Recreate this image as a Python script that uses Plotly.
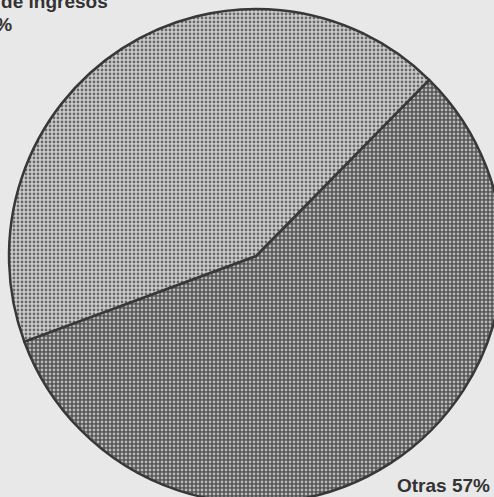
import plotly.graph_objects as go

labels = ["Otras", "Fuentes de ingresos"]
values = [57, 43]
pct_labels = ["Otras 57%", "43%"]
title_line = "Fuentes de ingresos"

bg = "#e8e8e8"

fig = go.Figure()
fig.add_trace(go.Pie(
    labels=labels,
    values=values,
    sort=False,
    direction="clockwise",
    rotation=44.5,
    textinfo="none",
    hoverinfo="label+percent",
    showlegend=False,
    domain=dict(x=[0, 1], y=[0, 1]),
    marker=dict(
        colors=["#6e6e6e", "#ababab"],
        line=dict(color="#383838", width=2.5),
        pattern=dict(
            shape=[".", "."],
            bgcolor=["#555555", "#cecece"],
            fgcolor=["#b8b8b8", "#6a6a6a"],
            size=4,
            solidity=0.4,
            fillmode="replace",
        ),
    ),
))

font = dict(family="Liberation Sans, Arial, sans-serif", size=19, color="#333333")
W = 494.0
fig.add_annotation(
    text="<b>" + title_line + "</b>", xref="paper", yref="paper",
    x=(110 - 9) / W, y=1 + 8 / W, xanchor="right", yanchor="middle",
    showarrow=False, font=font,
)
fig.add_annotation(
    text="<b>" + pct_labels[1] + "</b>", xref="paper", yref="paper",
    x=(14 - 9) / W, y=1 - 16 / W, xanchor="right", yanchor="middle",
    showarrow=False, font=font,
)
fig.add_annotation(
    text="<b>" + pct_labels[0] + "</b>", xref="paper", yref="paper",
    x=(492 - 9) / W, y=1 - 476 / W, xanchor="right", yanchor="middle",
    showarrow=False, font=font,
)

fig.update_layout(
    width=503, height=503, autosize=False,
    margin=dict(l=9, r=0, t=9, b=0),
    paper_bgcolor=bg, plot_bgcolor=bg,
)
fig.write_html(
    "out.html",
    config={"displayModeBar": False},
    post_script="document.body.style.margin='0';document.body.style.background='" + bg + "';document.body.style.overflow='hidden';",
)
